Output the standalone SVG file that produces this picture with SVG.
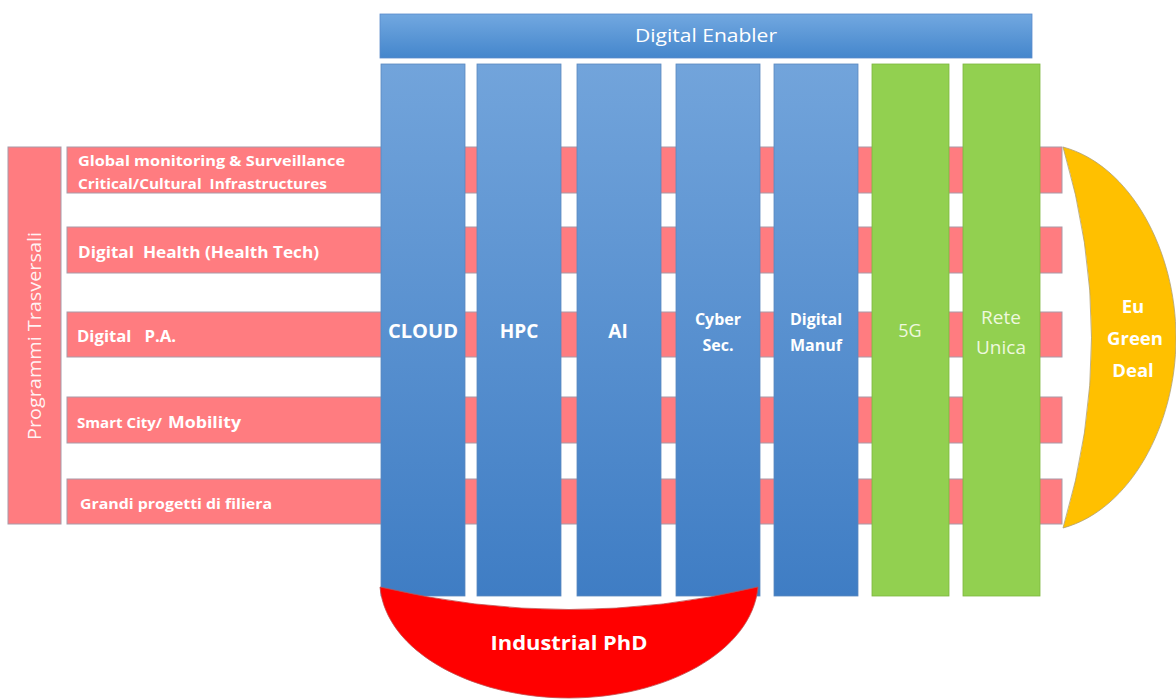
<svg xmlns="http://www.w3.org/2000/svg" width="1176" height="700" viewBox="0 0 1176 700">
<defs>
<linearGradient id="gCol" x1="0" y1="0" x2="0" y2="1">
<stop offset="0" stop-color="#72A4DB"/>
<stop offset="1" stop-color="#3F7DC4"/>
</linearGradient>
<linearGradient id="gBar" x1="0" y1="0" x2="0" y2="1">
<stop offset="0" stop-color="#72A8E0"/>
<stop offset="1" stop-color="#4486CC"/>
</linearGradient>
<style>
.row{fill:#FF7C80;stroke:#A99AA8;stroke-width:1}
.col{fill:url(#gCol);stroke:#5B88BF;stroke-width:0.8}
.grn{fill:#92D050;stroke:#7DB63E;stroke-width:0.8}
.t{font-family:"Open Sans","Liberation Sans",sans-serif;fill:#FFFFFF}
.b{font-weight:bold}
.c{text-anchor:middle}
.g{fill:#EEF8DE}
</style>
</defs>
<rect width="1176" height="700" fill="#FFFFFF"/>

<g id="programmi">
<rect class="row" x="8" y="147" width="53" height="377"/>
<text class="t c" transform="translate(41,336) rotate(-90)" font-size="18.5" fill-opacity="0.92" textLength="208" lengthAdjust="spacingAndGlyphs">Programmi Trasversali</text>
</g>

<g id="row1"><rect class="row" x="67" y="147" width="995" height="46"/>
<text class="t b" x="78" y="166" font-size="15" textLength="267" lengthAdjust="spacingAndGlyphs">Global monitoring &amp; Surveillance</text>
<text class="t b" x="78" y="189" font-size="14.5" textLength="249" lengthAdjust="spacingAndGlyphs" xml:space="preserve">Critical/Cultural  Infrastructures</text></g>
<g id="row2"><rect class="row" x="67" y="227" width="995" height="46"/>
<text class="t b" x="78" y="258" font-size="16.5" textLength="241" lengthAdjust="spacingAndGlyphs" xml:space="preserve">Digital  Health (Health Tech)</text></g>
<g id="row3"><rect class="row" x="67" y="312" width="995" height="45"/>
<text class="t b" x="77" y="342" font-size="16" textLength="99" lengthAdjust="spacingAndGlyphs" xml:space="preserve">Digital   P.A.</text></g>
<g id="row4"><rect class="row" x="67" y="397" width="995" height="46"/>
<text class="t b" x="77" y="428"><tspan font-size="14" textLength="89" lengthAdjust="spacingAndGlyphs">Smart City/ </tspan><tspan x="168" font-size="16.5" textLength="73" lengthAdjust="spacingAndGlyphs">Mobility</tspan></text></g>
<g id="row5"><rect class="row" x="67" y="479" width="995" height="45"/>
<text class="t b" x="80" y="509" font-size="15" textLength="192" lengthAdjust="spacingAndGlyphs">Grandi progetti di filiera</text></g>

<g id="digital-enabler">
<rect x="380" y="14" width="652" height="44" fill="url(#gBar)" stroke="#5B8ACB" stroke-width="0.8"/>
<text class="t c" x="706" y="42" font-size="18" textLength="142" lengthAdjust="spacingAndGlyphs">Digital Enabler</text>
</g>

<g id="cloud"><rect class="col" x="381" y="64" width="84" height="532"/>
<text class="t b c" x="423" y="338" font-size="19" textLength="70" lengthAdjust="spacingAndGlyphs">CLOUD</text></g>
<g id="hpc"><rect class="col" x="477" y="64" width="84" height="532"/>
<text class="t b c" x="519" y="338" font-size="19">HPC</text></g>
<g id="ai"><rect class="col" x="577" y="64" width="84" height="532"/>
<text class="t b c" x="618" y="338" font-size="19">AI</text></g>
<g id="cyber"><rect class="col" x="676" y="64" width="84" height="532"/>
<text class="t b c" x="718" y="325" font-size="16">Cyber</text>
<text class="t b c" x="718" y="351" font-size="16">Sec.</text></g>
<g id="manuf"><rect class="col" x="774" y="64" width="84" height="532"/>
<text class="t b c" x="816" y="325" font-size="16">Digital</text>
<text class="t b c" x="816" y="351" font-size="16">Manuf</text></g>
<g id="g5"><rect class="grn" x="872" y="64" width="77" height="532"/>
<text class="t g c" x="910" y="337" font-size="18">5G</text></g>
<g id="rete"><rect class="grn" x="963" y="64" width="77" height="532"/>
<text class="t g c" x="1001" y="324" font-size="19">Rete</text>
<text class="t g c" x="1001" y="354" font-size="19">Unica</text></g>

<g id="green-deal">
<path d="M1063,147 C1130,165 1176,250 1176,338 C1176,425 1130,510 1063,528 Q1120,338 1063,147 Z" fill="#FFC000" stroke="#B0A070" stroke-width="0.8"/>
<text class="t b c" x="1133" y="313" font-size="18.5">Eu</text>
<text class="t b c" x="1135" y="345" font-size="18.5">Green</text>
<text class="t b c" x="1133" y="377" font-size="18.5">Deal</text>
</g>

<g id="industrial-phd">
<path d="M380,587 Q569,632 758,587 C752,652 665,698 569,698 C473,698 386,652 380,587 Z" fill="#FF0000" stroke="#C05050" stroke-width="0.8"/>
<text class="t b c" x="569" y="650" font-size="20" textLength="157" lengthAdjust="spacingAndGlyphs">Industrial PhD</text>
</g>
<g id="connectors"/>
</svg>
